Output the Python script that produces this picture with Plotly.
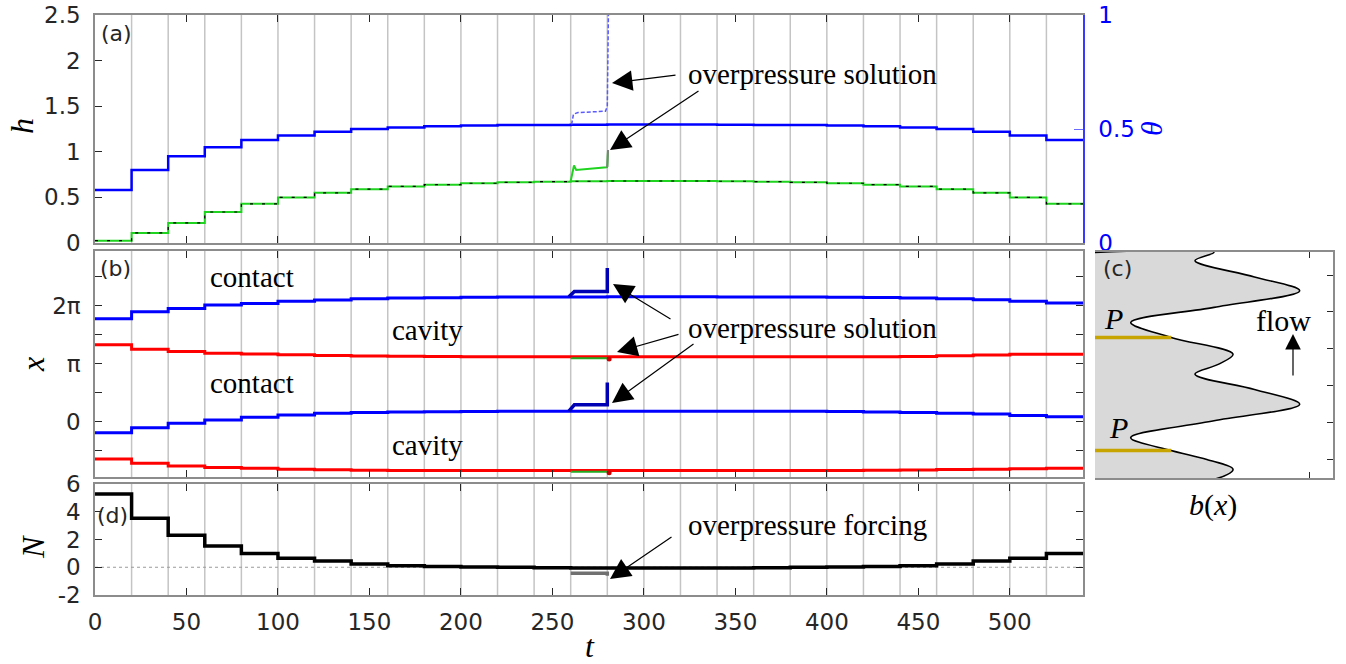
import plotly.graph_objects as go

W, H = 1346, 664

# ---------------- data ----------------
# forcing is switched every 20 time units
t_switch = [0, 20, 40, 60, 80, 100, 120, 140, 160, 180, 200, 220, 240, 260,
            280, 300, 320, 340, 360, 380, 400, 420, 440, 460, 480, 500, 520, 540]
N_forcing = [5.28, 3.53, 2.30, 1.53, 1.00, 0.64, 0.45, 0.23, 0.11, 0.05, 0.02, 0.0,
             -0.03, -0.05, -0.05, -0.05, -0.05, -0.05, -0.03, 0.0, 0.02, 0.05, 0.11,
             0.23, 0.45, 0.64, 1.00]
h_vals = [0.025, 0.11, 0.22, 0.34, 0.43, 0.50, 0.55, 0.59, 0.62, 0.64, 0.655, 0.665,
          0.672, 0.677, 0.68, 0.68, 0.68, 0.677, 0.672, 0.665, 0.655, 0.64, 0.62,
          0.59, 0.55, 0.50, 0.43]
theta_vals = [0.232, 0.320, 0.380, 0.420, 0.452, 0.472, 0.488, 0.500, 0.507, 0.512,
              0.515, 0.517, 0.518, 0.519, 0.52, 0.52, 0.52, 0.519, 0.518, 0.517,
              0.515, 0.512, 0.507, 0.500, 0.488, 0.472, 0.452]
contact_hi = [5.58, 5.96, 6.14, 6.32, 6.41, 6.52, 6.60, 6.66, 6.70, 6.72, 6.74, 6.75,
              6.76, 6.76, 6.77, 6.77, 6.77, 6.76, 6.76, 6.75, 6.74, 6.73, 6.70, 6.66,
              6.61, 6.52, 6.43]
contact_lo = [-0.60, -0.33, -0.09, 0.09, 0.24, 0.36, 0.45, 0.50, 0.52, 0.54, 0.55,
              0.56, 0.57, 0.57, 0.57, 0.57, 0.57, 0.57, 0.57, 0.56, 0.55, 0.52, 0.49,
              0.46, 0.41, 0.34, 0.27]
cavity_hi = [4.17, 3.93, 3.80, 3.71, 3.67, 3.62, 3.59, 3.56, 3.54, 3.53, 3.52, 3.52,
             3.52, 3.52, 3.52, 3.52, 3.52, 3.52, 3.52, 3.52, 3.52, 3.52, 3.53, 3.57,
             3.61, 3.65, 3.66]
cavity_lo = [-2.03, -2.26, -2.40, -2.48, -2.53, -2.58, -2.61, -2.63, -2.65, -2.65,
             -2.65, -2.65, -2.65, -2.65, -2.65, -2.65, -2.65, -2.65, -2.65, -2.65,
             -2.65, -2.64, -2.62, -2.60, -2.58, -2.55, -2.53]

# overpressure run (t = 260..280)
op_t_h = [260, 260.8, 261.8, 263, 279.6, 280, 280.4]
op_h = [0.68, 0.76, 0.85, 0.80, 0.83, 0.84, 1.02]
op_t_theta = [260.5, 261.5, 264, 279, 280, 280.3, 280.6]
op_theta = [0.52, 0.565, 0.572, 0.578, 0.60, 0.80, 1.0]
op_t_x = [259, 262, 280, 280]
op_contact_hi = [6.77, 7.06, 7.06, 8.33]
op_contact_lo = [0.57, 0.91, 0.91, 2.12]
op_t_cav = [260, 280]
op_cavity_hi = [3.44, 3.44]
op_cavity_lo = [-2.72, -2.72]
op_t_N = [260, 280, 280]
op_N = [-0.44, -0.44, -0.62]

# bed profile b(x), panel (c)
bed_x = [-3.07, -2.53, -2.0, -1.51, -0.81, 0.1, 1.0, 1.8, 2.63, 3.17, 3.71, 4.62,
         5.43, 6.25, 7.15, 7.9, 8.78, 9.23]
bed_b = [0.50, 0.58, 0.47, 0.32, 0.15, 0.50, 0.86, 0.67, 0.42, 0.52, 0.58, 0.32,
         0.15, 0.50, 0.86, 0.67, 0.42, 0.50]
P_x = [-1.51, 4.62]
P_b = 0.32

# axis ticks
t_ticks = [0, 50, 100, 150, 200, 250, 300, 350, 400, 450, 500]
h_ticks = [0, 0.5, 1, 1.5, 2, 2.5]
h_ticktext = ["0", "0.5", "1", "1.5", "2", "2.5"]
theta_ticks = [0, 0.5, 1]
PI = 3.141592653589793
x_ticks = [-PI / 2, 0, PI / 2, PI, 3 * PI / 2, 2 * PI, 5 * PI / 2]
x_ticktext = ["", "0", "", "π", "", "2π", ""]
N_ticks = [-2, 0, 2, 4, 6]
N_ticktext = ["-2", "0", "2", "4", "6"]

# ---------------- styling ----------------
SANS = "DejaVu Sans"
SERIF = "Liberation Serif"
TXT = "#262626"
FRAME = "#8c8c8c"
GRID = "#c4c4c4"
GREEN = "#1fd41f"

def px(xp, yp):
    return xp / W, 1 - yp / H

fig = go.Figure()

def steps(vals):
    return t_switch, list(vals) + [vals[-1]]

def vgrid(ymin, ymax, xa, ya):
    xs, ys = [], []
    for t in t_switch[1:-1]:
        xs += [t, t, None]
        ys += [ymin, ymax, None]
    fig.add_trace(go.Scatter(x=xs, y=ys, mode="lines", xaxis=xa, yaxis=ya,
                             line=dict(color=GRID, width=1.5), hoverinfo="skip",
                             showlegend=False))

# ---- panel (a)
vgrid(0, 2.5, "x", "y")
tx, ty = steps(h_vals)
fig.add_trace(go.Scatter(x=tx, y=ty, mode="lines", line=dict(color=GREEN, width=2, shape="hv"),
                         xaxis="x", yaxis="y", showlegend=False))
fig.add_trace(go.Scatter(x=tx, y=ty, mode="lines",
                         line=dict(color="black", width=1.2, shape="hv", dash="3px,9px"),
                         xaxis="x", yaxis="y", showlegend=False))
tx, ty = steps(theta_vals)
fig.add_trace(go.Scatter(x=tx, y=ty, mode="lines", line=dict(color="#0000ff", width=2.5, shape="hv"),
                         xaxis="x", yaxis="y2", showlegend=False))
fig.add_trace(go.Scatter(x=op_t_h, y=op_h, mode="lines", line=dict(color=GREEN, width=2),
                         xaxis="x", yaxis="y", showlegend=False))
fig.add_trace(go.Scatter(x=op_t_h[-3:], y=op_h[-3:], mode="lines", line=dict(color="#808080", width=2),
                         xaxis="x", yaxis="y", showlegend=False))
fig.add_trace(go.Scatter(x=op_t_theta, y=op_theta, mode="lines",
                         line=dict(color="#5a5aff", width=1.5, dash="4px,2px"),
                         xaxis="x", yaxis="y2", showlegend=False))

# ---- panel (b)
vgrid(-3.0, 9.25, "x2", "y3")
for vals, col in [(contact_hi, "#0000ff"), (contact_lo, "#0000ff"),
                  (cavity_hi, "#ff0000"), (cavity_lo, "#ff0000")]:
    tx, ty = steps(vals)
    fig.add_trace(go.Scatter(x=tx, y=ty, mode="lines", line=dict(color=col, width=3, shape="hv"),
                             xaxis="x2", yaxis="y3", showlegend=False))
for vals in [op_contact_hi, op_contact_lo]:
    fig.add_trace(go.Scatter(x=op_t_x, y=vals, mode="lines", line=dict(color="#0000b4", width=3.5),
                             xaxis="x2", yaxis="y3", showlegend=False))
for vals in [op_cavity_hi, op_cavity_lo]:
    fig.add_trace(go.Scatter(x=op_t_cav, y=vals, mode="lines", line=dict(color="#22aa22", width=2),
                             xaxis="x2", yaxis="y3", showlegend=False))
    fig.add_trace(go.Scatter(x=[op_t_cav[-1] + 1], y=[vals[-1] - 0.05], mode="markers",
                             marker=dict(color="#cc0000", size=5),
                             xaxis="x2", yaxis="y3", showlegend=False))

# ---- panel (d)
vgrid(-2, 6, "x3", "y4")
fig.add_trace(go.Scatter(x=[0, 540], y=[0, 0], mode="lines",
                         line=dict(color="#9a9a9a", width=1, dash="dot"),
                         xaxis="x3", yaxis="y4", showlegend=False))
tx, ty = steps(N_forcing)
fig.add_trace(go.Scatter(x=tx, y=ty, mode="lines", line=dict(color="black", width=3.5, shape="hv"),
                         xaxis="x3", yaxis="y4", showlegend=False))
fig.add_trace(go.Scatter(x=op_t_N, y=op_N, mode="lines", line=dict(color="#707070", width=3.5),
                         xaxis="x3", yaxis="y4", showlegend=False))

# ---- panel (c)
fill_b = [0] + bed_b + [0]
fill_x = [bed_x[0]] + bed_x + [bed_x[-1]]
fig.add_trace(go.Scatter(x=fill_b, y=fill_x, mode="lines", fill="toself",
                         fillcolor="#d9d9d9", line=dict(color="black", width=1.6, shape="spline"),
                         xaxis="x4", yaxis="y5", showlegend=False))
for p in P_x:
    fig.add_trace(go.Scatter(x=[0, P_b], y=[p, p], mode="lines",
                             line=dict(color="#c8a400", width=3.5),
                             xaxis="x4", yaxis="y5", showlegend=False))

# ---------------- axes ----------------
xdom = [95 / W, 1083 / W]

def xax(domain, anchor, labels=False):
    return dict(domain=domain, anchor=anchor, range=[0, 540], tickvals=t_ticks,
                ticks="inside", ticklen=7, tickcolor=TXT, showline=True, linecolor=FRAME,
                linewidth=1.5, mirror="ticks", showgrid=False, zeroline=False,
                showticklabels=labels, tickfont=dict(family=SANS, size=23, color=TXT),
                ticklabelstandoff=6, automargin=False)

def yax(domain, anchor, rng, tickvals, ticktext=None, mirror="ticks"):
    d = dict(domain=domain, anchor=anchor, range=rng, tickvals=tickvals,
             ticks="inside", ticklen=7, tickcolor=TXT, showline=True, linecolor=FRAME,
             linewidth=1.5, mirror=mirror, showgrid=False, zeroline=False,
             tickfont=dict(family=SANS, size=23, color=TXT), ticklabelstandoff=8,
             automargin=False)
    if ticktext is not None:
        d["ticktext"] = ticktext
    return d

fig.update_layout(
    width=W, height=H, margin=dict(l=0, r=0, t=0, b=0, autoexpand=False), autosize=False,
    paper_bgcolor="white", plot_bgcolor="rgba(0,0,0,0)", showlegend=False,
    xaxis=xax(xdom, "y"),
    yaxis=yax([1 - 243 / H, 1 - 15 / H], "x", [0, 2.5], h_ticks, h_ticktext, mirror=False),
    yaxis2=dict(overlaying="y", side="right", anchor="x", range=[0, 1], tickvals=theta_ticks,
                ticktext=["0", "0.5", "1"], ticks="inside", ticklen=9, tickcolor="#6a6aff",
                showline=True, linecolor="#3a3aff", linewidth=1.5, showgrid=False,
                zeroline=False, tickfont=dict(family=SANS, size=23, color="#0000ff"),
                ticklabelstandoff=9, automargin=False),
    xaxis2=xax(xdom, "y3"),
    yaxis3=yax([1 - 477 / H, 1 - 251 / H], "x2", [-3.0, 9.25], x_ticks, x_ticktext),
    xaxis3=xax(xdom, "y4", labels=True),
    yaxis4=yax([1 - 595 / H, 1 - 484 / H], "x3", [-2, 6], N_ticks, N_ticktext),
    xaxis4=dict(domain=[1095 / W, 1333 / W], anchor="y5", range=[0, 1], tickvals=[0.9],
                ticks="inside", ticklen=6, tickcolor=TXT, showline=True, linecolor=FRAME,
                linewidth=1.5, mirror="ticks", showticklabels=False, showgrid=False,
                zeroline=False, automargin=False),
    yaxis5=dict(domain=[1 - 478 / H, 1 - 252 / H], anchor="x4", side="right",
                range=[-3.0, 9.25], tickvals=[-2, 0, 2, 4, 6, 8], ticks="inside", ticklen=6,
                tickcolor=TXT, showline=True, linecolor=FRAME, linewidth=1.5,
                showticklabels=False, showgrid=False, zeroline=False, automargin=False),
)

# ---------------- annotations ----------------
ann = []

def text(s, xp, yp, size=29, family=SERIF, color="black", angle=0, xanchor="center"):
    x, y = px(xp, yp)
    ann.append(dict(text=s, x=x, y=y, xref="paper", yref="paper", showarrow=False,
                    xanchor=xanchor, yanchor="middle", textangle=angle,
                    font=dict(family=family, size=size, color=color)))

def arrow(hx, hy, tx_, ty_, size=3.4, width=1.2):
    x, y = px(hx, hy)
    ann.append(dict(text="", x=x, y=y, xref="paper", yref="paper", showarrow=True,
                    ax=tx_ - hx, ay=ty_ - hy, axref="pixel", ayref="pixel",
                    arrowhead=2, arrowsize=size, arrowwidth=width, arrowcolor="black",
                    standoff=0, startstandoff=0))

# panel labels
text("(a)", 116, 34, size=22, family=SANS, color=TXT)
text("(b)", 115, 269, size=22, family=SANS, color=TXT)
text("(d)", 113, 515, size=22, family=SANS, color=TXT)
text("(c)", 1117, 269, size=22, family=SANS, color=TXT)

# axis titles
text("<i>h</i>", 22, 126, size=32, angle=-90)
text("<i>x</i>", 33, 365, size=32, angle=-90)
text("<i>N</i>", 33, 547, size=32, angle=-90)
text("<i>θ</i>", 1152, 129, size=30, color="#0000ff", angle=-90)
text("<i>t</i>", 590, 646, size=32)
text("<i>b</i>(<i>x</i>)", 1213, 505, size=30)

# in-plot labels
text("contact", 252, 277)
text("contact", 252, 383)
text("cavity", 427, 330)
text("cavity", 427, 445)
text("overpressure solution", 812, 74)
text("overpressure solution", 812, 328)
text("overpressure forcing", 807, 525)
text("<i>P</i>", 1113, 318, size=30)
text("<i>P</i>", 1118, 427, size=30)
text("flow", 1283, 320, size=30)

arrow(612, 83, 677, 75)
arrow(610, 150, 700, 90)
arrow(613, 284, 672, 320)
arrow(617, 352, 680, 334)
arrow(612, 403, 695, 343)
arrow(610, 579, 673, 536)
arrow(1293, 334, 1293, 377, size=2.6)

fig.update_layout(annotations=ann)

fig.write_html("out.html", config={"displayModeBar": False},
               post_script="document.body.style.margin='0';")
